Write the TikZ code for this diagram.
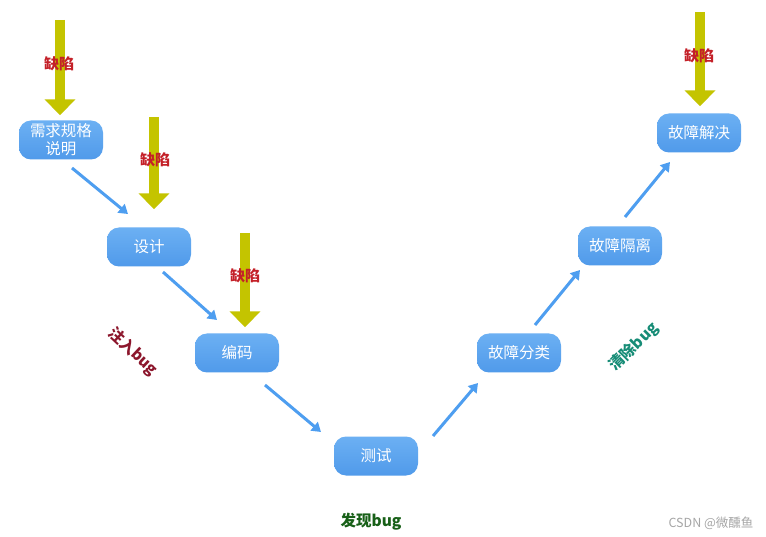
\documentclass[tikz,border=0pt]{standalone}
\usepackage{fontspec}
\newfontfamily\cjk{Noto Sans CJK SC}
\usetikzlibrary{arrows.meta,calc}
\definecolor{boxtop}{RGB}{108,176,243}
\definecolor{boxbot}{RGB}{80,154,234}
\definecolor{flowblue}{RGB}{78,158,240}
\definecolor{defyellow}{RGB}{196,196,0}
\definecolor{defred}{RGB}{196,32,40}
\definecolor{injred}{RGB}{140,22,44}
\definecolor{clrteal}{RGB}{22,140,118}
\definecolor{fndgreen}{RGB}{24,96,24}
\tikzset{
	stage/.style={rounded corners=12pt, top color=boxtop, bottom color=boxbot, text=white,
		minimum width=84pt, minimum height=39pt, inner sep=2pt, align=center,
		font=\cjk\fontsize{15.5}{18}\selectfont},
	flow/.style={draw=flowblue, line width=3pt, -{Triangle[length=9pt,width=11pt]}},
	defect/.style={draw=defyellow, line width=10pt, -{Triangle[length=16pt,width=30pt]}},
	deflabel/.style={text=defred, inner sep=1pt, font=\cjk\bfseries\fontsize{15}{15}\selectfont},
	phase/.style={inner sep=1pt, font=\cjk\bfseries\fontsize{15.5}{15.5}\selectfont},
}

\begin{document}
\begin{tikzpicture}[x=1pt, y=-1pt]
			%%%%% START %%%%%
			\useasboundingbox[fill=white] (0, 0) rectangle (766, 537);
			
			% stages of the V
			\node[stage] (req) at (61, 140) {需求规格\\说明};
			\node[stage] (des) at (149, 247) {设计};
			\node[stage] (cod) at (237, 353) {编码};
			\node[stage] (tst) at (376, 456) {测试};
			\node[stage] (cls) at (519, 353) {故障分类};
			\node[stage] (iso) at (620, 246) {故障隔离};
			\node[stage] (fix) at (699, 133) {故障解决};
			
			% flow arrows
			\draw[flow] ($(req)+(11, 28)$) -- ($(des)+(-21, -33)$);
			\draw[flow] ($(des)+(14, 25)$) -- ($(cod)+(-20, -33)$);
			\draw[flow] ($(cod)+(28, 32)$) -- ($(tst)+(-55, -24)$);
			\draw[flow] ($(tst)+(57, -20)$) -- ($(cls)+(-41, 30)$);
			\draw[flow] ($(cls)+(16, -28)$) -- ($(iso)+(-40, 24)$);
			\draw[flow] ($(iso)+(5, -29)$) -- ($(fix)+(-29, 29)$);
			
			% defects
			\coordinate (d1) at (60, 20);
			\coordinate (d2) at (154, 117);
			\coordinate (d3) at (245, 233);
			\coordinate (d4) at (700, 12);
			\draw[defect] (d1) -- ($(req.north)+(-1, -5)$);
			\draw[defect] (d2) -- ($(des.north)+(5, -18)$);
			\draw[defect] (d3) -- ($(cod.north)+(8, -6)$);
			\draw[defect] (d4) -- ($(fix.north)+(1, -7)$);
			\node[deflabel] (l1) at (59, 64) {缺陷};
			\node[deflabel] (l2) at (155, 160) {缺陷};
			\node[deflabel] (l3) at (245, 276) {缺陷};
			\node[deflabel] (l4) at (699, 56) {缺陷};
			
			% phases
			\node[phase, text=injred, rotate=-43] (inj) at (133, 352) {注入bug};
			\node[phase, text=clrteal, rotate=45] (clr) at (634, 347) {清除bug};
			\node[phase, text=fndgreen] (fnd) at (371, 522) {发现bug};
			
			\node[text=black!35, font=\cjk\fontsize{12.5}{12.5}\selectfont] (wm) at (711, 523) {CSDN @微醺鱼};
			%%%%% END %%%%%
\end{tikzpicture}
\end{document}
